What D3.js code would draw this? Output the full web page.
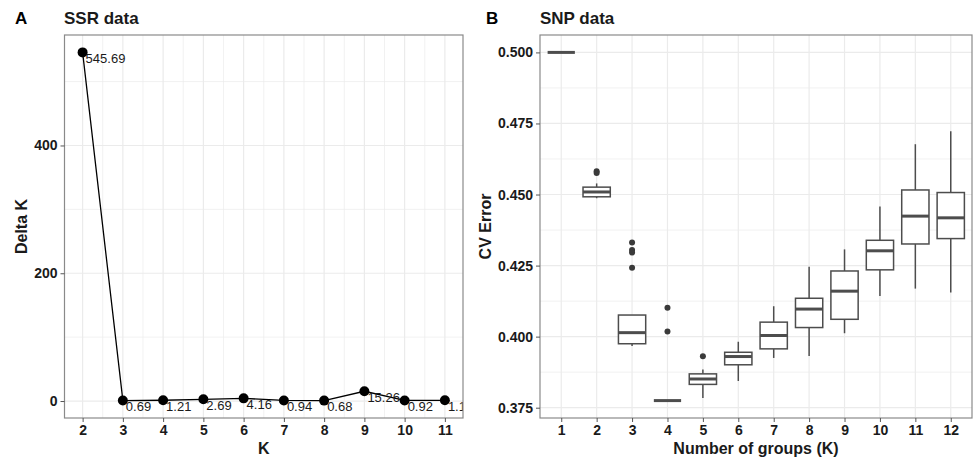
<!DOCTYPE html>
<html>
<head>
<meta charset="utf-8">
<script src="https://cdn.jsdelivr.net/npm/d3@7"></script>
<style>
  body { margin: 0; background: #fff; }
  svg { display: block; font-family: "Liberation Sans", Arial, sans-serif; }
  .tick text { font-weight: bold; font-size: 14px; fill: #1a1a1a; }
  .tick line { stroke: #555; }
</style>
</head>
<body>
<svg id="canvas" width="975" height="457"></svg>
<script>
// panel A: Delta K for SSR data
const kValues = [2, 3, 4, 5, 6, 7, 8, 9, 10, 11];
const deltaK = [545.69, 0.69, 1.21, 2.69, 4.16, 0.94, 0.68, 15.26, 0.92, 1.13];
const deltaKTicks = [0, 200, 400];

// panel B: CV error boxplots for SNP data
const groups = [1, 2, 3, 4, 5, 6, 7, 8, 9, 10, 11, 12];
const whiskerLow = [0.5, 0.4487, 0.3967, 0.3775, 0.3784, 0.3844, 0.3925, 0.3932, 0.4012, 0.4143, 0.4169, 0.4155];
const q1 = [0.5, 0.4492, 0.3975, 0.3775, 0.3832, 0.3901, 0.3957, 0.4032, 0.4061, 0.4235, 0.4326, 0.4345];
const median = [0.5, 0.4509, 0.4014, 0.3775, 0.3851, 0.3930, 0.4004, 0.4097, 0.4160, 0.4302, 0.4424, 0.4418];
const q3 = [0.5, 0.4526, 0.4076, 0.3775, 0.3869, 0.3945, 0.4051, 0.4135, 0.4231, 0.4339, 0.4516, 0.4507];
const whiskerHigh = [0.5, 0.4539, 0.4076, 0.3775, 0.3884, 0.3982, 0.4107, 0.4246, 0.4307, 0.4458, 0.4677, 0.4723];
const outliers = [[], [0.4582, 0.4576], [0.4331, 0.4305, 0.4296, 0.4242], [0.4102, 0.4018], [0.3931], [], [], [], [], [], [], []];
const cvTicks = [0.375, 0.4, 0.425, 0.45, 0.475, 0.5];

let canvas = d3.select("#canvas");
let gridColor = "#ebebeb";
let borderColor = "#8a8a8a";

let drawPanelA = () => {
  let left = 64.5, right = 463, top = 35, bottom = 418;
  let yMin = d3.min(deltaK), yMax = d3.max(deltaK);
  let pad = (yMax - yMin) * 0.05;
  let xPad = (d3.max(kValues) - d3.min(kValues)) * 0.05;

  let x = d3.scaleLinear()
    .domain([d3.min(kValues) - xPad, d3.max(kValues) + xPad])
    .range([left, right]);
  let y = d3.scaleLinear().domain([yMin - pad, yMax + pad]).range([bottom, top]);

  let g = canvas.append("g");

  // minor grid
  let minorX = kValues.map((k) => k + 0.5).filter((v) => v < x.domain()[1]);
  let minorY = [100, 300, 500];
  g.selectAll(".minx").data(minorX).enter().append("line")
    .attr("x1", (d) => x(d)).attr("x2", (d) => x(d))
    .attr("y1", top).attr("y2", bottom)
    .attr("stroke", gridColor).attr("stroke-width", 0.7);
  g.selectAll(".miny").data(minorY).enter().append("line")
    .attr("x1", left).attr("x2", right)
    .attr("y1", (d) => y(d)).attr("y2", (d) => y(d))
    .attr("stroke", gridColor).attr("stroke-width", 0.7);
  // major grid
  g.selectAll(".majx").data(kValues).enter().append("line")
    .attr("x1", (d) => x(d)).attr("x2", (d) => x(d))
    .attr("y1", top).attr("y2", bottom)
    .attr("stroke", gridColor).attr("stroke-width", 1.2);
  g.selectAll(".majy").data(deltaKTicks).enter().append("line")
    .attr("x1", left).attr("x2", right)
    .attr("y1", (d) => y(d)).attr("y2", (d) => y(d))
    .attr("stroke", gridColor).attr("stroke-width", 1.2);

  canvas.append("clipPath").attr("id", "clipA")
    .append("rect").attr("x", left).attr("y", top)
    .attr("width", right - left).attr("height", bottom - top);

  let plot = g.append("g").attr("clip-path", "url(#clipA)");
  let pts = kValues.map((k, i) => [k, deltaK[i]]);

  plot.append("path")
    .datum(pts)
    .attr("d", d3.line().x((d) => x(d[0])).y((d) => y(d[1])))
    .attr("fill", "none").attr("stroke", "#000").attr("stroke-width", 1.3);

  plot.selectAll("circle").data(pts).enter().append("circle")
    .attr("cx", (d) => x(d[0])).attr("cy", (d) => y(d[1]))
    .attr("r", 5).attr("fill", "#000");

  plot.selectAll(".lbl").data(pts).enter().append("text")
    .attr("x", (d) => x(d[0]) + 3).attr("y", (d) => y(d[1]) + 10.5)
    .attr("font-size", 13).attr("fill", "#1a1a1a")
    .text((d) => d[1]);

  g.append("rect").attr("x", left).attr("y", top)
    .attr("width", right - left).attr("height", bottom - top)
    .attr("fill", "none").attr("stroke", borderColor).attr("stroke-width", 1.2);

  let xAxis = g.append("g").attr("transform", "translate(0," + bottom + ")")
    .call(d3.axisBottom(x).tickValues(kValues).tickSize(4).tickPadding(3).tickFormat(d3.format("d")));
  xAxis.select(".domain").remove();

  let yAxis = g.append("g").attr("transform", "translate(" + left + ",0)")
    .call(d3.axisLeft(y).tickValues(deltaKTicks).tickSize(4).tickPadding(3));
  yAxis.select(".domain").remove();

  g.append("text").attr("x", (left + right) / 2).attr("y", 454)
    .attr("text-anchor", "middle").attr("font-weight", "bold").attr("font-size", 16)
    .attr("fill", "#1a1a1a").text("K");
  g.append("text").attr("transform", "translate(27," + (top + bottom) / 2 + ") rotate(-90)")
    .attr("text-anchor", "middle").attr("font-weight", "bold").attr("font-size", 16)
    .attr("fill", "#1a1a1a").text("Delta K");
  g.append("text").attr("x", 15).attr("y", 24)
    .attr("font-weight", "bold").attr("font-size", 17).attr("fill", "#000").text("A");
  g.append("text").attr("x", 64).attr("y", 24)
    .attr("font-weight", "bold").attr("font-size", 17).attr("fill", "#1a1a1a").text("SSR data");
};

let drawPanelB = () => {
  let left = 540, right = 972, top = 35, bottom = 418;
  let allVals = whiskerLow.concat(whiskerHigh, outliers.flat());
  let yMin = d3.min(allVals), yMax = d3.max(allVals);
  let pad = (yMax - yMin) * 0.05;

  let x = d3.scaleLinear()
    .domain([d3.min(groups) - 0.6, d3.max(groups) + 0.6])
    .range([left, right]);
  let y = d3.scaleLinear().domain([yMin - pad, yMax + pad]).range([bottom, top]);
  let halfW = (x(1.385) - x(1));

  let g = canvas.append("g");

  let minorY = cvTicks.slice(0, -1).map((t) => t + 0.0125);
  g.selectAll(".miny").data(minorY).enter().append("line")
    .attr("x1", left).attr("x2", right)
    .attr("y1", (d) => y(d)).attr("y2", (d) => y(d))
    .attr("stroke", gridColor).attr("stroke-width", 0.7);
  g.selectAll(".majx").data(groups).enter().append("line")
    .attr("x1", (d) => x(d)).attr("x2", (d) => x(d))
    .attr("y1", top).attr("y2", bottom)
    .attr("stroke", gridColor).attr("stroke-width", 1.2);
  g.selectAll(".majy").data(cvTicks).enter().append("line")
    .attr("x1", left).attr("x2", right)
    .attr("y1", (d) => y(d)).attr("y2", (d) => y(d))
    .attr("stroke", gridColor).attr("stroke-width", 1.2);

  let boxColor = "#4d4d4d";
  let boxes = g.selectAll(".box").data(groups).enter().append("g");

  boxes.append("line")
    .attr("x1", (d) => x(d)).attr("x2", (d) => x(d))
    .attr("y1", (d, i) => y(whiskerHigh[i])).attr("y2", (d, i) => y(q3[i]))
    .attr("stroke", boxColor).attr("stroke-width", 1.5);
  boxes.append("line")
    .attr("x1", (d) => x(d)).attr("x2", (d) => x(d))
    .attr("y1", (d, i) => y(q1[i])).attr("y2", (d, i) => y(whiskerLow[i]))
    .attr("stroke", boxColor).attr("stroke-width", 1.5);
  boxes.append("rect")
    .attr("x", (d) => x(d) - halfW).attr("width", halfW * 2)
    .attr("y", (d, i) => y(q3[i])).attr("height", (d, i) => y(q1[i]) - y(q3[i]))
    .attr("fill", "#fff").attr("stroke", boxColor).attr("stroke-width", 1.5);
  boxes.append("line")
    .attr("x1", (d) => x(d) - halfW).attr("x2", (d) => x(d) + halfW)
    .attr("y1", (d, i) => y(median[i])).attr("y2", (d, i) => y(median[i]))
    .attr("stroke", boxColor).attr("stroke-width", 3);

  let outPts = [];
  groups.forEach((k, i) => outliers[i].forEach((v) => outPts.push([k, v])));
  g.selectAll(".out").data(outPts).enter().append("circle")
    .attr("cx", (d) => x(d[0])).attr("cy", (d) => y(d[1]))
    .attr("r", 3).attr("fill", "#3a3a3a");

  g.append("rect").attr("x", left).attr("y", top)
    .attr("width", right - left).attr("height", bottom - top)
    .attr("fill", "none").attr("stroke", borderColor).attr("stroke-width", 1.2);

  let xAxis = g.append("g").attr("transform", "translate(0," + bottom + ")")
    .call(d3.axisBottom(x).tickValues(groups).tickSize(4).tickPadding(3).tickFormat(d3.format("d")));
  xAxis.select(".domain").remove();

  let yAxis = g.append("g").attr("transform", "translate(" + left + ",0)")
    .call(d3.axisLeft(y).tickValues(cvTicks).tickSize(4).tickPadding(3).tickFormat(d3.format(".3f")));
  yAxis.select(".domain").remove();

  g.append("text").attr("x", (left + right) / 2).attr("y", 454)
    .attr("text-anchor", "middle").attr("font-weight", "bold").attr("font-size", 16)
    .attr("fill", "#1a1a1a").text("Number of groups (K)");
  g.append("text").attr("transform", "translate(491," + (top + bottom) / 2 + ") rotate(-90)")
    .attr("text-anchor", "middle").attr("font-weight", "bold").attr("font-size", 16)
    .attr("fill", "#1a1a1a").text("CV Error");
  g.append("text").attr("x", 486).attr("y", 24)
    .attr("font-weight", "bold").attr("font-size", 17).attr("fill", "#000").text("B");
  g.append("text").attr("x", 540).attr("y", 24)
    .attr("font-weight", "bold").attr("font-size", 17).attr("fill", "#1a1a1a").text("SNP data");
};

drawPanelA();
drawPanelB();
</script>
</body>
</html>
